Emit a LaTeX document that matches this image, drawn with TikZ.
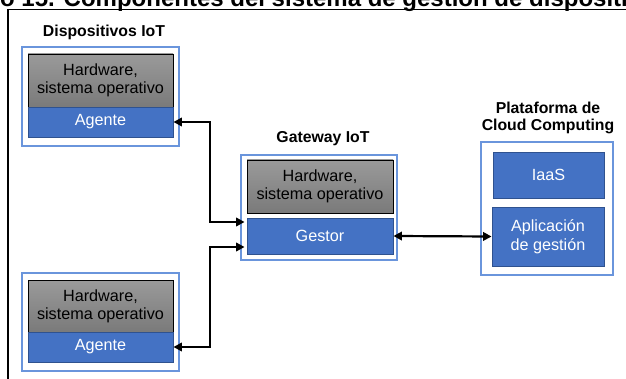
\documentclass[tikz,border=0pt]{standalone}
\usepackage{fontspec}
\setmainfont{Liberation Sans}
\usetikzlibrary{arrows.meta}
\definecolor{boxblue}{HTML}{4472C4}
\definecolor{boxedge}{HTML}{2F528F}
\definecolor{groupedge}{HTML}{6A95DC}
\definecolor{hwtop}{HTML}{9A9A9A}
\definecolor{hwbot}{HTML}{7A7A7A}
\tikzset{
  grp/.style={draw=groupedge, line width=1.1pt, fill=white, inner sep=0pt},
  hwbox/.style={draw=black, line width=0.9pt, top color=hwtop, bottom color=hwbot,
    inner sep=0pt, align=center, font=\fontsize{16.2}{18}\selectfont},
  swbox/.style={draw=boxedge, line width=0.9pt, fill=boxblue, text=white,
    inner sep=0pt, align=center, font=\fontsize{16.2}{18.5}\selectfont},
  grplabel/.style={inner sep=0pt, align=center, font=\fontsize{15.8}{17}\selectfont\bfseries},
  biarrow/.style={line width=2.2pt, {Triangle[length=8.5pt,width=8.5pt]}-{Triangle[length=8.5pt,width=8.5pt]}}
}
\begin{document}
\begin{tikzpicture}[x=1pt,y=-1pt]
\useasboundingbox (0,0) rectangle (626,379);

% caption and frame, cut off by the page edges
\begin{scope}
  \clip (0,0) rectangle (626,379);
  \node[anchor=base west, inner sep=0pt, font=\fontsize{24}{28}\selectfont\bfseries]
    (caption) at (-69.4,7) {Gráfico 15. Componentes del sistema de gestión de dispositivos};
  \draw[line width=1.3pt] (8,400) -- (8,9.5) -- (700,9.5);
\end{scope}

% IoT devices
\node[grplabel] (devlabel) at (104,32) {Dispositivos IoT};
\node[grp, minimum width=157pt, minimum height=99pt] (dev1) at (100.5,96.5) {};
\node[hwbox, minimum width=145pt, minimum height=53pt] (hw1) at (100.5,80.5) {Hardware,\\sistema operativo};
\node[swbox, minimum width=145pt, minimum height=30pt] (ag1) at (100.5,122) {Agente};

\node[grp, minimum width=157pt, minimum height=98pt] (dev2) at (100.5,322) {};
\node[hwbox, minimum width=145pt, minimum height=52pt] (hw2) at (100.5,306) {Hardware,\\sistema operativo};
\node[swbox, minimum width=145pt, minimum height=30pt] (ag2) at (100.5,347) {Agente};

% IoT gateway
\node[grplabel] (gwlabel) at (323,139) {Gateway IoT};
\node[grp, minimum width=156pt, minimum height=105pt] (gw) at (319,207.5) {};
\node[hwbox, minimum width=146pt, minimum height=53pt] (hw3) at (320,186.5) {Hardware,\\sistema operativo};
\node[swbox, minimum width=146pt, minimum height=36pt] (gestor) at (320,236) {Gestor};

% cloud platform
\node[grplabel] (cllabel) at (548,118) {Plataforma de\\Cloud Computing};
\node[grp, minimum width=132pt, minimum height=133pt] (cloud) at (547,208.5) {};
\node[swbox, minimum width=111pt, minimum height=46pt] (iaas) at (548.5,175) {IaaS};
\node[swbox, minimum width=112pt, minimum height=59pt] (app) at (548,236.5) {Aplicación\\de gestión};

% connections
\coordinate (bus) at (210,236);
\draw[biarrow, shorten >=2pt] (ag1.east) -| (bus |- ag1.east) |- ([yshift=14pt]gestor.west);
\draw[biarrow, shorten >=2pt] (ag2.east) -| (bus |- ag2.east) |- ([yshift=-11pt]gestor.west);
\draw[biarrow] (gestor.east) -- (app.west);
\end{tikzpicture}
\end{document}
